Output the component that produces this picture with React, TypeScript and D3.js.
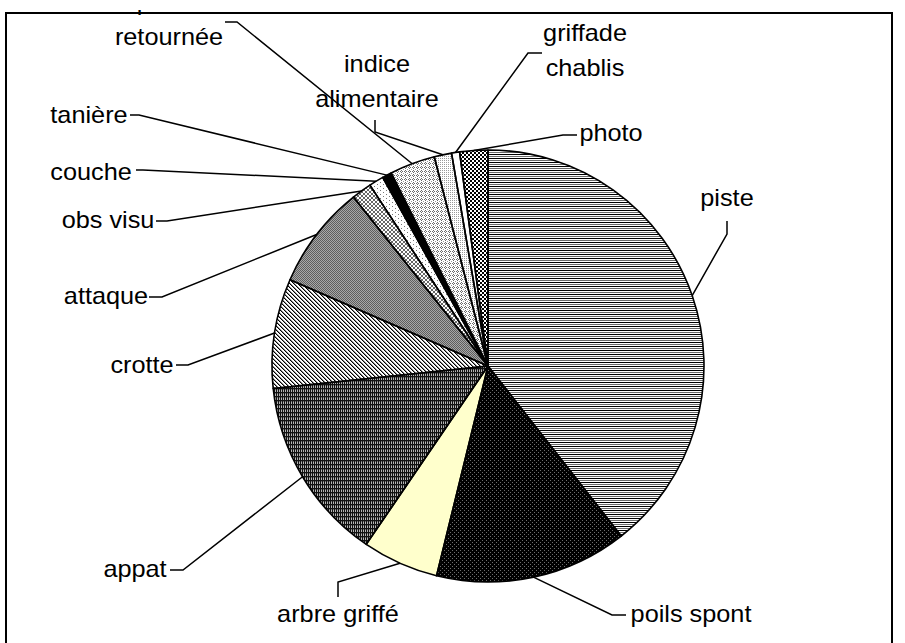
import React from "react";
import * as d3 from "d3";

// slices, clockwise from 12 o'clock
const categories = [
  "piste",
  "poils spont",
  "arbre griffé",
  "appat",
  "crotte",
  "attaque",
  "obs visu",
  "couche",
  "tanière",
  "pierre retournée",
  "indice alimentaire",
  "griffade chablis",
  "photo",
];
const values = [39.4, 14.4, 5.7, 13.8, 8.2, 7.75, 1.5, 1.1, 0.7, 3.4, 1.3, 0.6, 2.1];
const labelLines = [
  ["piste"],
  ["poils spont"],
  ["arbre griffé"],
  ["appat"],
  ["crotte"],
  ["attaque"],
  ["obs visu"],
  ["couche"],
  ["tanière"],
  ["pierre", "retournée"],
  ["indice", "alimentaire"],
  ["griffade", "chablis"],
  ["photo"],
];

// label placement (centre x, baseline of last line, leader start + elbow)
const labelLayout = [
  { x: 727, y: 206, start: [727, 221], elbow: [727, 234] },
  { x: 691, y: 622, start: [626, 615], elbow: [612, 615] },
  { x: 338, y: 622, start: [338, 597], elbow: [338, 582] },
  { x: 135, y: 577, start: [170, 570], elbow: [183, 570] },
  { x: 142, y: 373, start: [176, 365], elbow: [188, 365] },
  { x: 106, y: 304, start: [149, 297], elbow: [162, 297] },
  { x: 108, y: 228, start: [156, 221], elbow: [167, 221] },
  { x: 91, y: 180, start: [136, 170], elbow: [143, 170] },
  { x: 89, y: 123, start: [130, 115], elbow: [139, 115] },
  { x: 169, y: 45, start: [225, 22], elbow: [237, 22] },
  { x: 377, y: 107, start: [375, 120], elbow: [375, 132] },
  { x: 585, y: 76, start: [542, 53], elbow: [528, 53] },
  { x: 611, y: 141, start: [577, 135], elbow: [563, 135] },
];

const fills = [
  "url(#p-hlines)",
  "url(#p-dark)",
  "#FFFFCC",
  "url(#p-appat)",
  "url(#p-diag)",
  "url(#p-check)",
  "url(#p-cross)",
  "url(#p-sparse)",
  "#000000",
  "url(#p-diamond)",
  "url(#p-fine)",
  "#FFFFFF",
  "url(#p-big)",
];

const W = 905;
const H = 643;
const cx = 488;
const cy = 366;
const R = 216;
const LINE_GAP = 35;

const px = (x: number, y: number, c: string, w = 1, h = 1) => (
  <rect key={`${x}-${y}-${c}`} x={x} y={y} width={w} height={h} fill={c} />
);

export default function App() {
  const pie = d3
    .pie<number>()
    .sort(null)
    .value((d) => d)
    .startAngle(0)
    .endAngle(2 * Math.PI);
  const arcs = pie(values);
  const arc = d3.arc<d3.PieArcDatum<number>>().innerRadius(0).outerRadius(R);

  const diagCells: React.ReactNode[] = [];
  for (let r = 0; r < 4; r++) {
    diagCells.push(px(r, r, "#000"));
    diagCells.push(px((r + 1) % 4, r, "#8a8a8a"));
  }
  const crossCells: React.ReactNode[] = [];
  for (let i = 0; i < 4; i++) {
    crossCells.push(px(i, i, "#666"));
    if (3 - i !== i) crossCells.push(px(3 - i, i, "#666"));
  }

  return (
    <svg
      width={W}
      height={H}
      style={{ position: "absolute", left: 0, top: 0, background: "#fff" }}
      fontFamily="'Liberation Sans', Arial, sans-serif"
    >
      <defs>
        <pattern id="p-hlines" width={4} height={4} patternUnits="userSpaceOnUse">
          <rect width={4} height={4} fill="#fff" />
          {px(0, 0, "#000", 4, 1)}
          {px(0, 2, "#6a6a6a", 4, 1)}
        </pattern>
        <pattern id="p-dark" width={4} height={4} patternUnits="userSpaceOnUse">
          <rect width={4} height={4} fill="#000" />
          {px(0, 0, "#6e6e6e")}
          {px(2, 2, "#6e6e6e")}
        </pattern>
        <pattern id="p-appat" width={4} height={4} patternUnits="userSpaceOnUse">
          <rect width={4} height={4} fill="#111" />
          {px(1, 0, "#b4b4b4", 1, 2)}
          {px(3, 0, "#b4b4b4", 1, 2)}
          {px(1, 3, "#777")}
          {px(3, 3, "#777")}
        </pattern>
        <pattern id="p-diag" width={4} height={4} patternUnits="userSpaceOnUse">
          <rect width={4} height={4} fill="#fff" />
          {diagCells}
        </pattern>
        <pattern id="p-check" width={2} height={2} patternUnits="userSpaceOnUse">
          <rect width={2} height={2} fill="#a8a8a8" />
          {px(0, 0, "#5e5e5e")}
          {px(1, 1, "#5e5e5e")}
        </pattern>
        <pattern id="p-cross" width={4} height={4} patternUnits="userSpaceOnUse">
          <rect width={4} height={4} fill="#fff" />
          {crossCells}
        </pattern>
        <pattern id="p-sparse" width={6} height={4} patternUnits="userSpaceOnUse">
          <rect width={6} height={4} fill="#fff" />
          {px(0, 0, "#777")}
          {px(3, 2, "#777")}
        </pattern>
        <pattern id="p-diamond" width={4} height={4} patternUnits="userSpaceOnUse">
          <rect width={4} height={4} fill="#fff" />
          {px(1, 0, "#6a6a6a")}
          {px(0, 1, "#6a6a6a")}
          {px(2, 1, "#6a6a6a")}
          {px(1, 2, "#6a6a6a")}
          {px(3, 3, "#9a9a9a")}
        </pattern>
        <pattern id="p-fine" width={2} height={2} patternUnits="userSpaceOnUse">
          <rect width={2} height={2} fill="#fff" />
          {px(0, 0, "#9a9a9a")}
        </pattern>
        <pattern id="p-big" width={4} height={4} patternUnits="userSpaceOnUse">
          <rect width={4} height={4} fill="#fff" />
          {px(0, 0, "#000", 2, 2)}
          {px(2, 2, "#000", 2, 2)}
        </pattern>
        <clipPath id="page-clip">
          <rect x={0} y={10} width={W} height={H - 10} />
        </clipPath>
      </defs>

      <g transform={`translate(${cx},${cy})`} shapeRendering="crispEdges">
        {arcs.map((a, i) => (
          <path key={categories[i]} d={arc(a) || ""} fill={fills[i]} />
        ))}
      </g>
      <g transform={`translate(${cx},${cy})`}>
        {arcs.map((a, i) => (
          <path
            key={categories[i]}
            d={arc(a) || ""}
            fill="none"
            stroke="#000"
            strokeWidth={1.6}
            strokeLinejoin="round"
          />
        ))}
      </g>

      <g clipPath="url(#page-clip)">
        {arcs.map((a, i) => {
          const mid = (a.startAngle + a.endAngle) / 2;
          const ex = cx + R * Math.sin(mid);
          const ey = cy - R * Math.cos(mid);
          const l = labelLayout[i];
          return (
            <polyline
              key={categories[i]}
              points={`${l.start[0]},${l.start[1]} ${l.elbow[0]},${l.elbow[1]} ${ex},${ey}`}
              fill="none"
              stroke="#000"
              strokeWidth={1.5}
            />
          );
        })}
        {labelLines.map((lines, i) => {
          const l = labelLayout[i];
          return lines.map((t, j) => (
            <text
              key={`${categories[i]}-${j}`}
              transform={`translate(${l.x},${l.y - (lines.length - 1 - j) * LINE_GAP}) scale(1.1,1)`}
              textAnchor="middle"
              fontSize={23}
              fill="#000"
            >
              {t}
            </text>
          ));
        })}
      </g>

      <rect x={6} y={13} width={886} height={H + 20} fill="none" stroke="#000" strokeWidth={2} />
    </svg>
  );
}
